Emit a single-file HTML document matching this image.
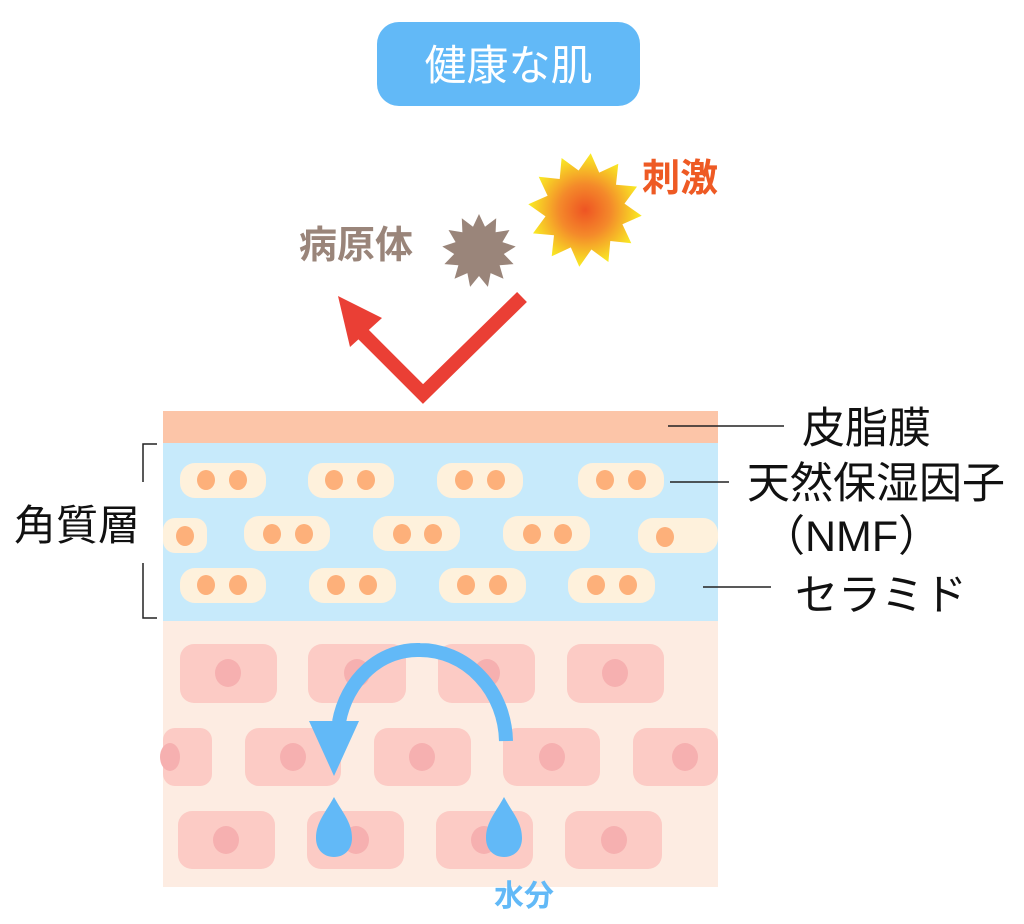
<!DOCTYPE html>
<html><head><meta charset="utf-8"><style>
html,body{margin:0;padding:0;background:#fff;}
svg{display:block;}
text{font-family:"Liberation Sans","Noto Sans CJK JP",sans-serif;}
</style></head><body>
<svg width="1024" height="924" viewBox="0 0 1024 924" xmlns="http://www.w3.org/2000/svg">
<defs>
<radialGradient id="sun" cx="50%" cy="50%" r="50%">
<stop offset="0" stop-color="#ee5423"/><stop offset="0.45" stop-color="#f4892a"/><stop offset="1" stop-color="#f9ec24"/>
</radialGradient>
</defs>
<rect x="377" y="22" width="263" height="84" rx="22" fill="#62b9f7"/>
<text x="508.5" y="80" font-size="42" fill="#fff" text-anchor="middle">健康な肌</text>

<polygon fill="url(#sun)" points="" id="sunp"/>
<polygon fill="#9a857a" points="" id="brp"/>
<text x="299" y="258" font-size="38" fill="#9a857a" font-weight="bold">病原体</text>
<text x="642" y="191" font-size="38" fill="#ee5a24" font-weight="bold">刺激</text>

<polyline points="522,297 423,394 362,333" fill="none" stroke="#ea3f35" stroke-width="14"/>
<polygon points="338,296 382,318 350,347" fill="#ea3f35"/>

<rect x="163" y="411" width="555" height="33" fill="#fcc5a8"/>
<rect x="163" y="443" width="555" height="178" fill="#c7eafb"/>
<rect x="163" y="621" width="555" height="266" fill="#fdece2"/>
<g fill="#fef1dc">
<rect x="180" y="463" width="86" height="35" rx="15"/><rect x="308" y="463" width="86" height="35" rx="15"/><rect x="437" y="463" width="86" height="35" rx="15"/><rect x="578" y="463" width="86" height="35" rx="15"/>
<rect x="163" y="518" width="44" height="35" rx="12"/><rect x="244" y="516" width="86" height="35" rx="15"/><rect x="373" y="516" width="87" height="35" rx="15"/><rect x="503" y="516" width="87" height="35" rx="15"/><rect x="638" y="518" width="80" height="35" rx="15"/>
<rect x="180" y="568" width="86" height="35" rx="15"/><rect x="309" y="568" width="87" height="35" rx="15"/><rect x="439" y="568" width="87" height="35" rx="15"/><rect x="568" y="568" width="87" height="35" rx="15"/>
</g>
<g fill="#fdb07a">
<ellipse cx="206" cy="480" rx="9" ry="10"/><ellipse cx="238" cy="480" rx="9" ry="10"/>
<ellipse cx="334" cy="480" rx="9" ry="10"/><ellipse cx="366" cy="480" rx="9" ry="10"/>
<ellipse cx="464" cy="480" rx="9" ry="10"/><ellipse cx="496" cy="480" rx="9" ry="10"/>
<ellipse cx="605" cy="480" rx="9" ry="10"/><ellipse cx="637" cy="480" rx="9" ry="10"/>
<ellipse cx="185" cy="536" rx="9" ry="10"/>
<ellipse cx="272" cy="534" rx="9" ry="10"/><ellipse cx="304" cy="534" rx="9" ry="10"/>
<ellipse cx="402" cy="534" rx="9" ry="10"/><ellipse cx="433" cy="534" rx="9" ry="10"/>
<ellipse cx="532" cy="534" rx="9" ry="10"/><ellipse cx="563" cy="534" rx="9" ry="10"/>
<ellipse cx="665" cy="537" rx="9" ry="10"/>
<ellipse cx="206" cy="585" rx="9" ry="10"/><ellipse cx="238" cy="585" rx="9" ry="10"/>
<ellipse cx="336" cy="585" rx="9" ry="10"/><ellipse cx="368" cy="585" rx="9" ry="10"/>
<ellipse cx="466" cy="585" rx="9" ry="10"/><ellipse cx="498" cy="585" rx="9" ry="10"/>
<ellipse cx="596" cy="585" rx="9" ry="10"/><ellipse cx="628" cy="585" rx="9" ry="10"/>
</g>
<g fill="#fccbc5">
<rect x="180" y="644" width="97" height="59" rx="14"/><rect x="308" y="644" width="98" height="59" rx="14"/><rect x="438" y="644" width="97" height="59" rx="14"/><rect x="567" y="644" width="97" height="59" rx="14"/>
<rect x="163" y="728" width="49" height="58" rx="12"/><rect x="245" y="728" width="96" height="58" rx="14"/><rect x="374" y="728" width="97" height="58" rx="14"/><rect x="503" y="728" width="97" height="58" rx="14"/><rect x="633" y="728" width="85" height="58" rx="14"/>
<rect x="178" y="811" width="97" height="58" rx="14"/><rect x="307" y="811" width="97" height="58" rx="14"/><rect x="436" y="811" width="97" height="58" rx="14"/><rect x="565" y="811" width="97" height="58" rx="14"/>
</g>
<g fill="#f6b0b0">
<ellipse cx="228" cy="673" rx="13" ry="14"/><ellipse cx="357" cy="673" rx="13" ry="14"/><ellipse cx="487" cy="673" rx="13" ry="14"/><ellipse cx="615" cy="673" rx="13" ry="14"/>
<ellipse cx="170" cy="757" rx="10" ry="14"/><ellipse cx="293" cy="757" rx="13" ry="14"/><ellipse cx="422" cy="757" rx="13" ry="14"/><ellipse cx="552" cy="757" rx="13" ry="14"/><ellipse cx="685" cy="757" rx="13" ry="14"/>
<ellipse cx="226" cy="840" rx="13" ry="14"/><ellipse cx="356" cy="840" rx="13" ry="14"/><ellipse cx="484" cy="840" rx="13" ry="14"/><ellipse cx="614" cy="840" rx="13" ry="14"/>
</g>

<path d="M 506 741 A 86 93 0 0 0 420 650 A 80 90 0 0 0 339 722" fill="none" stroke="#62b9f7" stroke-width="14"/>
<polygon points="309,721 359,721 334,776" fill="#62b9f7"/>
<path d="M334 797 C 326 812 316 822 316 838 C 316 850 324 857 334 857 C 344 857 352 850 352 838 C 352 822 342 812 334 797 Z" fill="#62b9f7"/>
<path d="M504 797 C 496 812 486 822 486 838 C 486 850 494 857 504 857 C 514 857 522 850 522 838 C 522 822 512 812 504 797 Z" fill="#62b9f7"/>
<text x="494" y="906" font-size="30" fill="#62b9f7" font-weight="bold">水分</text>

<polyline points="157,444 143,444 143,482" fill="none" stroke="#222" stroke-width="1.5"/>
<polyline points="143,563 143,618 157,618" fill="none" stroke="#222" stroke-width="1.5"/>
<text x="14" y="540" font-size="42" fill="#111">角質層</text>

<g stroke="#222" stroke-width="1.5">
<line x1="668" y1="426" x2="784" y2="426"/>
<line x1="670" y1="482" x2="729" y2="482"/>
<line x1="703" y1="587" x2="771" y2="587"/>
</g>
<g font-size="43" fill="#111">
<text x="802" y="443">皮脂膜</text>
<text x="747" y="498">天然保湿因子</text>
<text x="762" y="551">（NMF）</text>
<text x="795" y="610">セラミド</text>
</g>
</svg>
<script>
function star(cx,cy,ro,ri,n,rot){var p=[];for(var i=0;i<2*n;i++){var r=i%2?ri:ro;var a=rot+Math.PI*i/n;p.push((cx+r*Math.sin(a)).toFixed(1)+","+(cy-r*Math.cos(a)).toFixed(1));}return p.join(" ");}
document.getElementById("sunp").setAttribute("points",star(585,210,57,40,12,0.1));
document.getElementById("brp").setAttribute("points",star(479,251,37,25,13,0));
</script>
</body></html>
